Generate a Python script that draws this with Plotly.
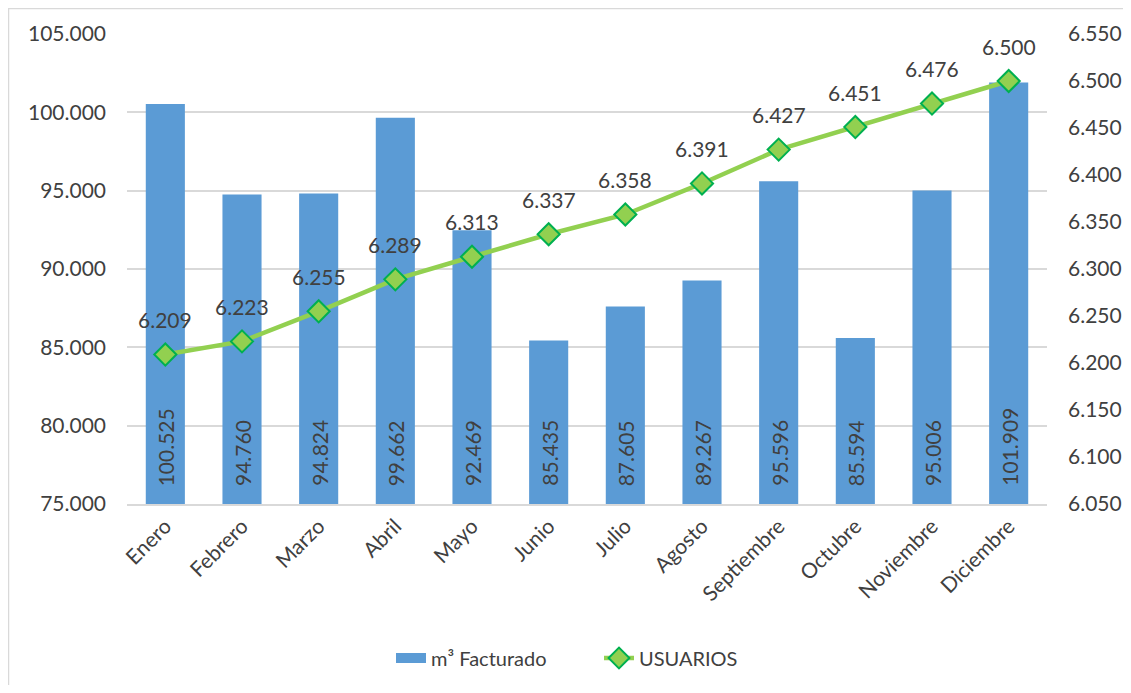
import plotly.graph_objects as go

meses = ["Enero", "Febrero", "Marzo", "Abril", "Mayo", "Junio", "Julio",
         "Agosto", "Septiembre", "Octubre", "Noviembre", "Diciembre"]
m3_facturado = [100525, 94760, 94824, 99662, 92469, 85435, 87605,
                89267, 95596, 85594, 95006, 101909]
usuarios = [6209, 6223, 6255, 6289, 6313, 6337, 6358, 6391, 6427, 6451, 6476, 6500]

FONT = "Lato"
TXT = "#404040"
GRID = "#D9D9D9"
FS = 21

# page body has an 8px margin -> figure drawn 8px right/down
W, H = 1115, 677
L, R, T, B = 119, 1039, 26, 496  # plot area in figure pixels


def px(x):
    return (x - L) / (R - L)


def py(y):
    return (B - y) / (B - T)


def fmt(v):
    return f"{v:,}".replace(",", ".")


fig = go.Figure()
fig.add_trace(go.Bar(
    x=meses, y=m3_facturado, name="m³ Facturado", showlegend=False,
    marker=dict(color="#5B9BD5", line=dict(width=0)),
))
fig.add_trace(go.Scatter(
    x=[None], y=[None], name="m³ Facturado", mode="lines",
    line=dict(color="#5B9BD5", width=13),
))
fig.add_trace(go.Scatter(
    x=meses, y=usuarios, name="USUARIOS", yaxis="y2",
    mode="lines+markers",
    line=dict(color="#92D050", width=4.5),
    marker=dict(symbol="diamond", size=17, color="#92D050",
                line=dict(color="#00B050", width=2)),
))

for m, v in zip(meses, m3_facturado):
    fig.add_annotation(x=m, y=75000, xref="x", yref="y", text=fmt(v),
                       showarrow=False, textangle=-90, yanchor="bottom", yshift=16,
                       font=dict(family=FONT, size=FS, color=TXT))

for m, u in zip(meses, usuarios):
    fig.add_annotation(x=m, y=u, xref="x", yref="y2", text=fmt(u),
                       showarrow=False, yshift=35,
                       font=dict(family=FONT, size=FS, color=TXT))

fig.update_layout(
    width=W, height=H,
    margin=dict(l=L, r=W - R, t=T, b=H - B, autoexpand=False),
    paper_bgcolor="white", plot_bgcolor="white",
    separators=",.",
    font=dict(family=FONT, size=FS, color=TXT),
    bargap=0.49,
    showlegend=True,
    legend=dict(orientation="h", x=px(383), xanchor="left", y=py(650), yanchor="middle",
                font=dict(family=FONT, size=20, color=TXT),
                entrywidth=163),
    xaxis=dict(range=[-0.5, 11.5], tickangle=-45, showgrid=False, showline=True,
               linecolor=GRID, linewidth=1.5,
               ticks="", tickfont=dict(family=FONT, size=21, color=TXT), automargin=False),
    yaxis=dict(range=[75000, 105000], dtick=5000, tickformat=",", showgrid=True,
               gridcolor=GRID, gridwidth=1.5, zeroline=False, ticks="", showline=False,
               ticklabelstandoff=20,
               tickfont=dict(family=FONT, size=FS, color=TXT), automargin=False),
    yaxis2=dict(range=[6050, 6550], dtick=50, tickformat=",", overlaying="y", side="right",
                showgrid=False, zeroline=False, ticks="", showline=False,
                ticklabelstandoff=20,
                tickfont=dict(family=FONT, size=FS, color=TXT), automargin=False),
)

fig.add_shape(type="rect", xref="paper", yref="paper",
              x0=px(0.5), x1=px(1121), y0=py(680), y1=py(0.5),
              line=dict(color=GRID, width=1.5), fillcolor="rgba(0,0,0,0)", layer="below")

fig.write_html("out.html")
